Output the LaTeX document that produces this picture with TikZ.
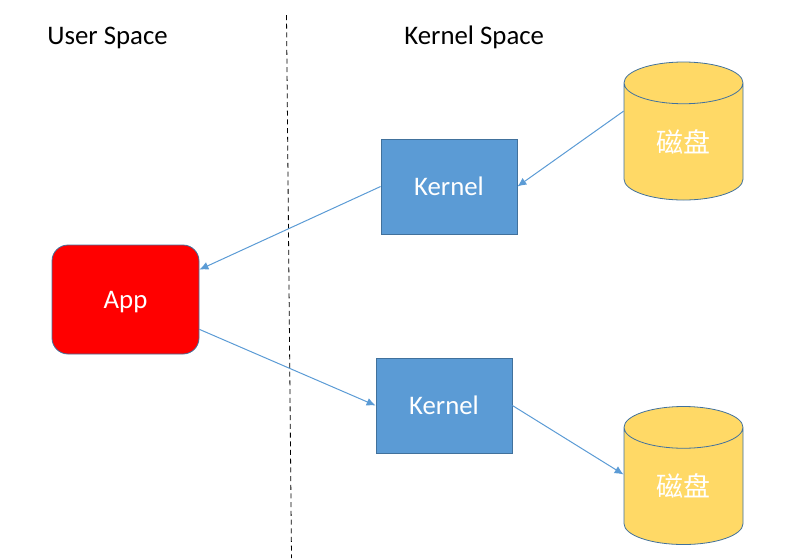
\documentclass[tikz,border=0pt]{standalone}
\usepackage{fontspec}
\setsansfont{Carlito}
\newfontfamily\cjk{Noto Sans CJK SC}
\usepackage{xcolor}
\usepackage{tikz}
\usetikzlibrary{arrows.meta, shapes.geometric}
\definecolor{boxblue}{HTML}{5B9BD5}
\definecolor{edgeblue}{HTML}{41719C}
\definecolor{diskyellow}{HTML}{FFD966}

\begin{document}
\begin{tikzpicture}[x=1pt, y=-1pt, line width=0.8pt,
        every node/.style={font=\sffamily\fontsize{26.8}{30}\selectfont},
        kernelbox/.style={rectangle, draw=edgeblue, fill=boxblue, text=white, minimum width=136pt, minimum height=95pt, inner sep=0pt},
        appbox/.style={rectangle, rounded corners=16pt, draw=edgeblue, fill=red, text=white, text depth=0pt, minimum width=147pt, minimum height=109pt, inner sep=0pt},
        disk/.style={cylinder, shape border rotate=90, aspect=0.773, anchor=shape center, draw=edgeblue, cylinder uses custom fill, cylinder body fill=diskyellow, cylinder end fill=diskyellow, text=white, minimum width=119pt, minimum height=138pt, inner sep=0pt, font=\cjk\fontsize{27}{30}\selectfont},
        link/.style={draw=boxblue, line width=1pt, -{Latex[length=9pt, width=8pt]}},
        title/.style={anchor=base west, inner sep=0pt}]
    \useasboundingbox (0,0) rectangle (805,558);
    \node[title] (user) at (47,44) {User Space};
    \node[title] (kernelspace) at (404,44) {Kernel Space};
    \coordinate (sepTop) at (286.5,15);
    \coordinate (sepBottom) at (291.5,558);
    \draw[black, dash pattern=on 5pt off 3.7pt] (sepTop) -- (sepBottom);
    \node[appbox] (app) at (125.5,299.5) {App};
    \node[kernelbox] (kernelA) at (449,186.5) {Kernel};
    \node[kernelbox] (kernelB) at (444,405.5) {Kernel};
    \node[disk] (diskA) at (683.5,131) {磁盘};
    \node[disk] (diskB) at (683.5,475.5) {磁盘};
    \draw[link] (diskA.153) -- (kernelA.east);
    \draw[link] (kernelA.west) -- (app.22);
    \draw[link] (app.-22) -- (kernelB.west);
    \draw[link] (kernelB.east) -- (diskB.169.5);
\end{tikzpicture}
\end{document}
